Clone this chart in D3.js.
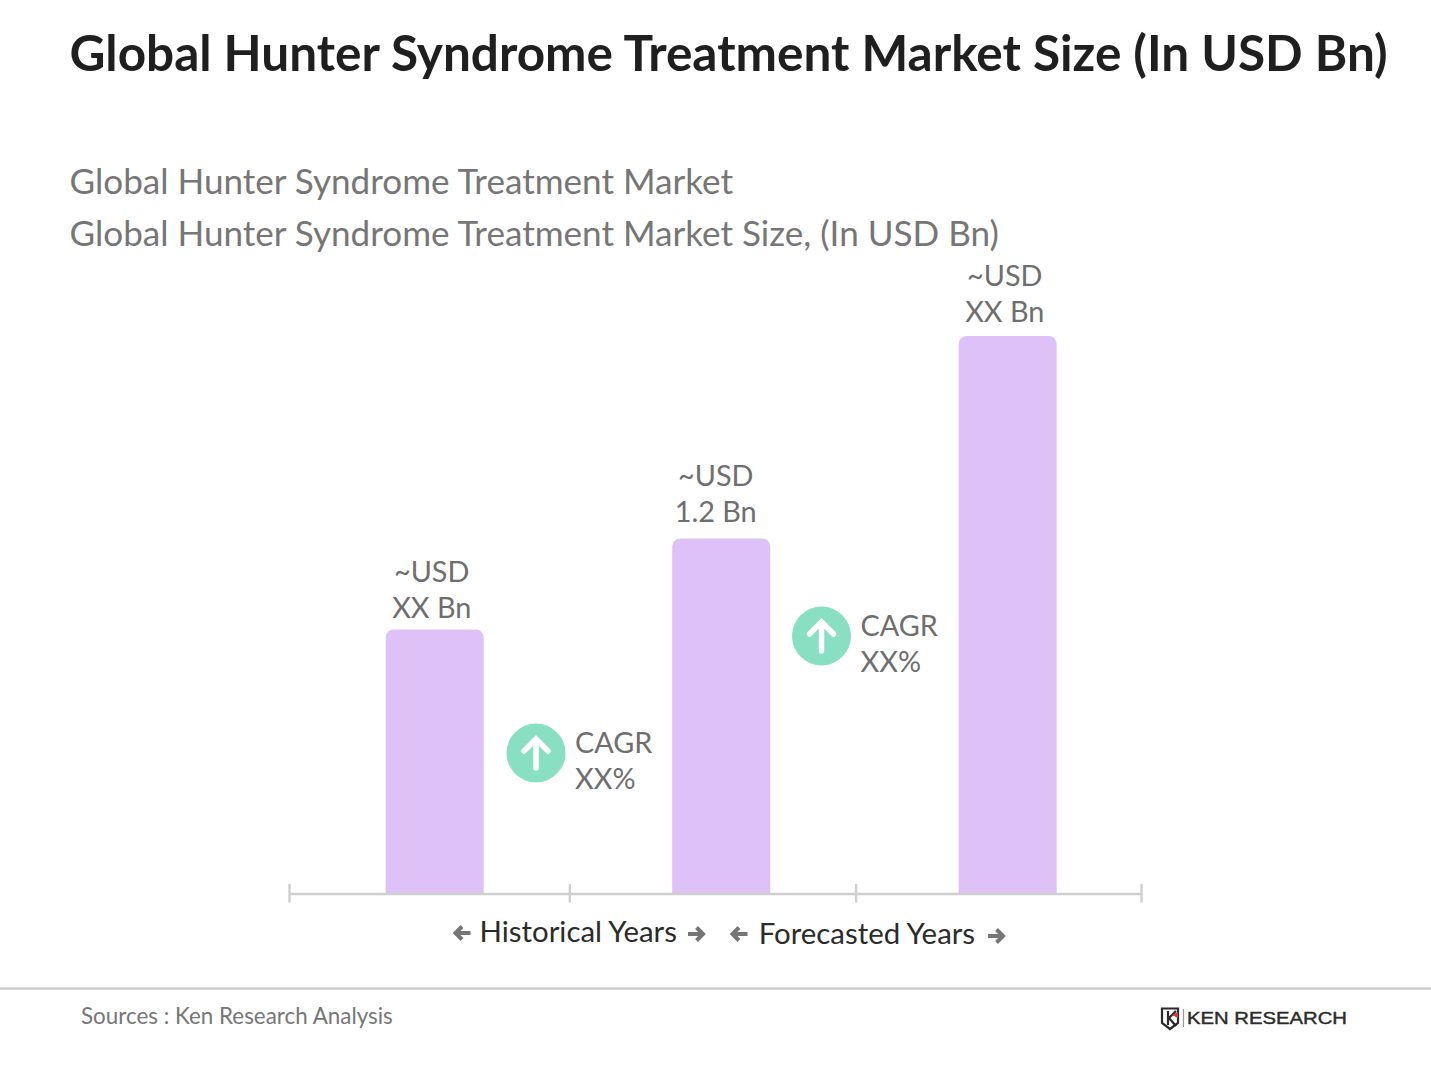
<!DOCTYPE html>
<html>
<head>
<meta charset="utf-8">
<script src="https://cdnjs.cloudflare.com/ajax/libs/d3/7.8.5/d3.min.js"></script>
<style>
html,body{margin:0;padding:0;background:#fff;}
svg{display:block;font-family:Lato,sans-serif;}
</style>
</head>
<body>
<div id="chart"></div>
<script>
const titleText = "Global Hunter Syndrome Treatment Market Size (In USD Bn)";
const subtitleLines = ["Global Hunter Syndrome Treatment Market", "Global Hunter Syndrome Treatment Market Size, (In USD Bn)"];
const categories = ["Period 1", "Period 2", "Period 3"];
const values = [0.892, 1.2, 1.885];
const labelTop = ["~USD", "~USD", "~USD"];
const labelBottom = ["XX Bn", "1.2 Bn", "XX Bn"];
const cagrTop = ["CAGR", "CAGR"];
const cagrBottom = ["XX%", "XX%"];
const periodTicks = [0, 0.987, 1.995, 3];
const periodNames = ["Historical Years", "Forecasted Years"];
const sourceText = "Sources : Ken Research Analysis";
const logoText = "KEN RESEARCH";

const W = 1431, H = 1073;
const svg = d3.select("#chart").append("svg").attr("width", W).attr("height", H);

svg.append("text").attr("x", 69.5).attr("y", 71).attr("font-size", 49.5).attr("font-weight", 700)
  .attr("fill", "#1f1f1f").text(titleText);
svg.selectAll("text.sub").data(subtitleLines).join("text").attr("class", "sub")
  .attr("x", 69.5).attr("y", (d, i) => 194 + i * 52).attr("font-size", 35.1).attr("fill", "#767676").text(d => d);

const x = d3.scaleBand().domain(categories).range([385.7, 1056.7]).paddingInner(0.658).paddingOuter(0);
const y = d3.scaleLinear().domain([0, 1.885]).range([893, 336]);

// bars with rounded tops
svg.selectAll("path.bar").data(values).join("path").attr("class", "bar")
  .attr("fill", "#dec2f7")
  .attr("d", (d, i) => {
    const x0 = x(categories[i]), w = x.bandwidth(), t = y(d), b = y(0), r = 8;
    const p = d3.path();
    p.moveTo(x0, b); p.lineTo(x0, t + r); p.arcTo(x0, t, x0 + r, t, r);
    p.lineTo(x0 + w - r, t); p.arcTo(x0 + w, t, x0 + w, t + r, r); p.lineTo(x0 + w, b); p.closePath();
    return p.toString();
  });

// axis
const period = d3.scaleLinear().domain([0, 3]).range([289, 1141]);
const axisG = svg.append("g").attr("transform", "translate(0,893.5)")
  .call(d3.axisBottom(period).tickValues(periodTicks).tickSize(9).tickSizeOuter(0).tickFormat(""));
axisG.select(".domain").attr("stroke", "#cfcfcf").attr("stroke-width", 2.6);
axisG.selectAll(".tick line").attr("y1", -9.5).attr("stroke", "#cfcfcf").attr("stroke-width", 2.4);

// bar labels
const labelDx = [-3, -5.5, -3];
const labelDy = [-0.5, -5.5, -3.5];
const labelG = svg.selectAll("g.lab").data(values).join("g").attr("class", "lab")
  .attr("transform", (d, i) => `translate(${x(categories[i]) + x.bandwidth() / 2 + labelDx[i]},${y(d) + labelDy[i]})`)
  .attr("font-size", 28.8).attr("fill", "#6e6e6e").attr("text-anchor", "middle");
labelG.append("text").attr("y", -47).text((d, i) => labelTop[i]);
labelG.append("text").attr("y", -11).text((d, i) => labelBottom[i]);

// CAGR badges
const cagrX = [536, 821.5], cagrY = [753, 636];
cagrTop.forEach((t, i) => {
  const g = svg.append("g").attr("transform", `translate(${cagrX[i]},${cagrY[i]})`);
  g.append("circle").attr("r", 29.5).attr("fill", "#88dfc1");
  g.append("path").attr("d", "M0,15V-14M-12,-2L0,-14L12,-2").attr("fill", "none").attr("stroke", "#fff")
    .attr("stroke-width", 5.5).attr("stroke-linecap", "round").attr("stroke-linejoin", "miter");
  g.append("text").attr("x", 39).attr("y", -0.5).attr("font-size", 28.8).attr("fill", "#6e6e6e").text(t);
  g.append("text").attr("x", 39).attr("y", 35.5).attr("font-size", 28.8).attr("fill", "#6e6e6e").text(cagrBottom[i]);
});

// period labels + arrows
function arrow(cx, cy, dir) {
  svg.append("path").attr("transform", `translate(${cx},${cy}) scale(${dir},1)`)
    .attr("d", "M-8,0H5M0.5,-6.5L7,0L0.5,6.5").attr("fill", "none").attr("stroke", "#767676")
    .attr("stroke-width", 4);
}
const periodX = [479.5, 758.7], periodY = [941.7, 944];
periodNames.forEach((t, i) => {
  svg.append("text").attr("x", periodX[i]).attr("y", periodY[i]).attr("font-size", 29.4).attr("fill", "#2b2b2b").text(t);
});
arrow(462.5, 933, -1); arrow(696, 934, 1); arrow(739.5, 934, -1); arrow(996, 936, 1);

// footer
svg.append("line").attr("x1", 0).attr("x2", W).attr("y1", 988.5).attr("y2", 988.5).attr("stroke", "#cdcdcd").attr("stroke-width", 2.4);
svg.append("text").attr("x", 81).attr("y", 1024).attr("font-size", 22.4).attr("fill", "#767676").text(sourceText);

// logo
const logo = svg.append("g");
logo.append("path").attr("d", "M1162,1008.5H1178V1023L1170,1029L1162,1023Z").attr("fill", "none").attr("stroke", "#2a2a2a").attr("stroke-width", 2.2);
logo.append("path").attr("d", "M1168,1011V1025M1176,1011L1169,1018L1176,1026").attr("fill", "none").attr("stroke", "#2a2a2a").attr("stroke-width", 2.2);
logo.append("path").attr("d", "M1172,1015L1178,1012V1018Z").attr("fill", "#d43a3a");
logo.append("line").attr("x1", 1183.5).attr("x2", 1183.5).attr("y1", 1009).attr("y2", 1027).attr("stroke", "#999").attr("stroke-width", 1.2);
logo.append("text").attr("x", 1187).attr("y", 1024).attr("font-family", "Liberation Sans").attr("font-size", 17)
  .attr("fill", "#2a2a2a").attr("stroke", "#2a2a2a").attr("stroke-width", 0.4)
  .attr("textLength", 160).attr("lengthAdjust", "spacingAndGlyphs").text(logoText);
</script>
</body>
</html>
